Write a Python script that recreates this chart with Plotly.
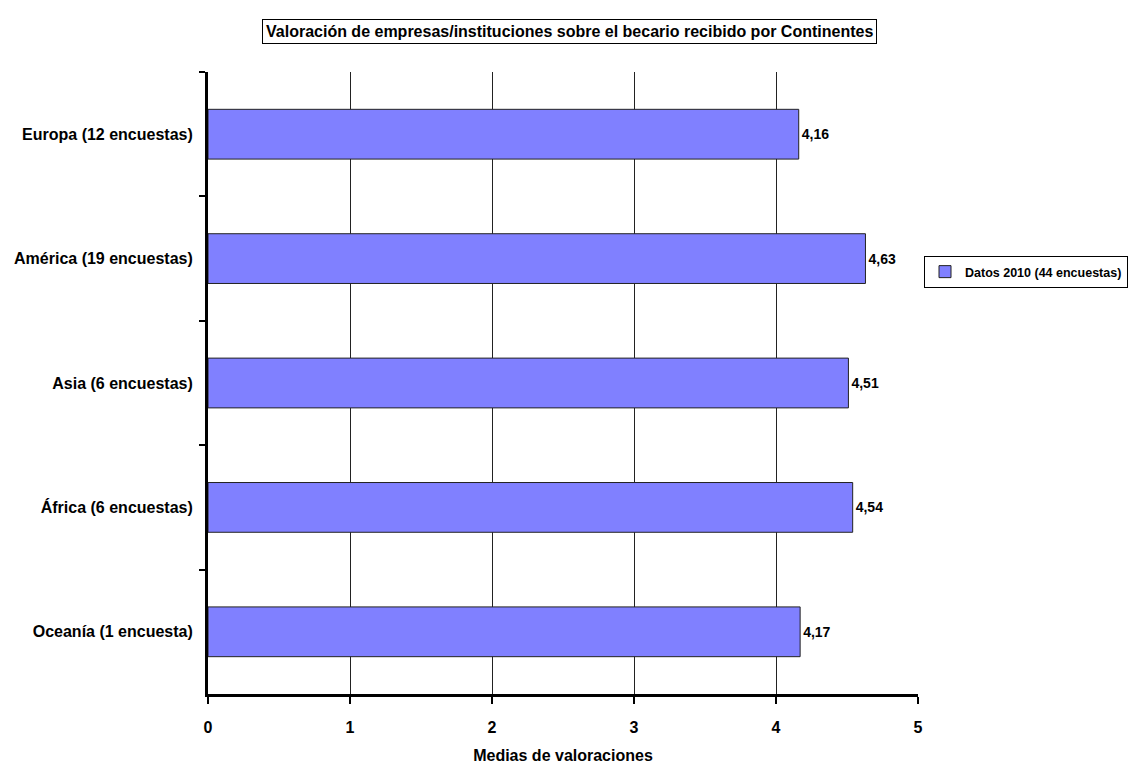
import plotly.graph_objects as go

categories = ["Europa (12 encuestas)", "América (19 encuestas)", "Asia (6 encuestas)",
              "África (6 encuestas)", "Oceanía (1 encuesta)"]
values = [4.16, 4.63, 4.51, 4.54, 4.17]
series_name = "Datos 2010 (44 encuestas)"
x_ticks = [0, 1, 2, 3, 4, 5]

FONT = "Liberation Sans Narrow, Arial Narrow, Liberation Sans, Arial, sans-serif"

labels = [f"{v:.2f}".replace(".", ",") for v in values]

L, R, T, B = 208, 918, 72, 694
W, H = 1134, 764
PW, PH = R - L, B - T

fig = go.Figure()
fig.add_trace(go.Bar(
    x=values, y=categories, orientation="h", name=series_name,
    marker=dict(color="#8080FF", line=dict(color="#222222", width=1)),
    width=0.4,
    text=labels, textposition="outside", cliponaxis=False,
    textfont=dict(family=FONT, size=14, color="black", weight="bold"),
    showlegend=True,
))

fig.update_layout(
    width=W, height=H,
    margin=dict(l=L, r=W - R, t=T, b=H - B, autoexpand=False),
    plot_bgcolor="white", paper_bgcolor="white",
    font=dict(family=FONT, size=16, color="black", weight="bold"),
    showlegend=True,
    legend=dict(x=(924 - L) / PW, y=(B - 272) / PH, xanchor="left", yanchor="middle",
                bordercolor="black", borderwidth=1, bgcolor="white",
                font=dict(family=FONT, size=12.5, color="black", weight="bold"),
                itemwidth=30, tracegroupgap=0),
    annotations=[dict(
        text="Valoración de empresas/instituciones sobre el becario recibido por Continentes",
        xref="paper", yref="paper", x=(569 - L) / PW, y=1 + (T - 32) / PH,
        xanchor="center", yanchor="middle", showarrow=False,
        font=dict(family=FONT, size=16, color="black", weight="bold"),
        bordercolor="black", borderwidth=1, borderpad=3, bgcolor="white",
    )],
)

fig.update_xaxes(
    range=[0, 5], tickvals=x_ticks, ticktext=[str(t) for t in x_ticks],
    showgrid=True, gridcolor="#222222", gridwidth=1,
    showline=True, linecolor="black", linewidth=3,
    ticks="outside", ticklen=7, tickwidth=2, tickcolor="black",
    ticklabelstandoff=10,
    zeroline=False,
    title=dict(text="Medias de valoraciones", standoff=18,
               font=dict(family=FONT, size=16, color="black", weight="bold")),
    tickfont=dict(family=FONT, size=16, color="black", weight="bold"),
)

fig.update_yaxes(
    categoryorder="array", categoryarray=categories, autorange="reversed",
    tickson="boundaries", ticks="outside", ticklen=6, tickwidth=2, tickcolor="black",
    showline=True, linecolor="black", linewidth=3, showgrid=False,
    ticklabelstandoff=9,
    tickfont=dict(family=FONT, size=16, color="black", weight="bold"),
)

fig.write_html("out.html", config={"displayModeBar": False},
               post_script="document.body.style.margin='0';")
